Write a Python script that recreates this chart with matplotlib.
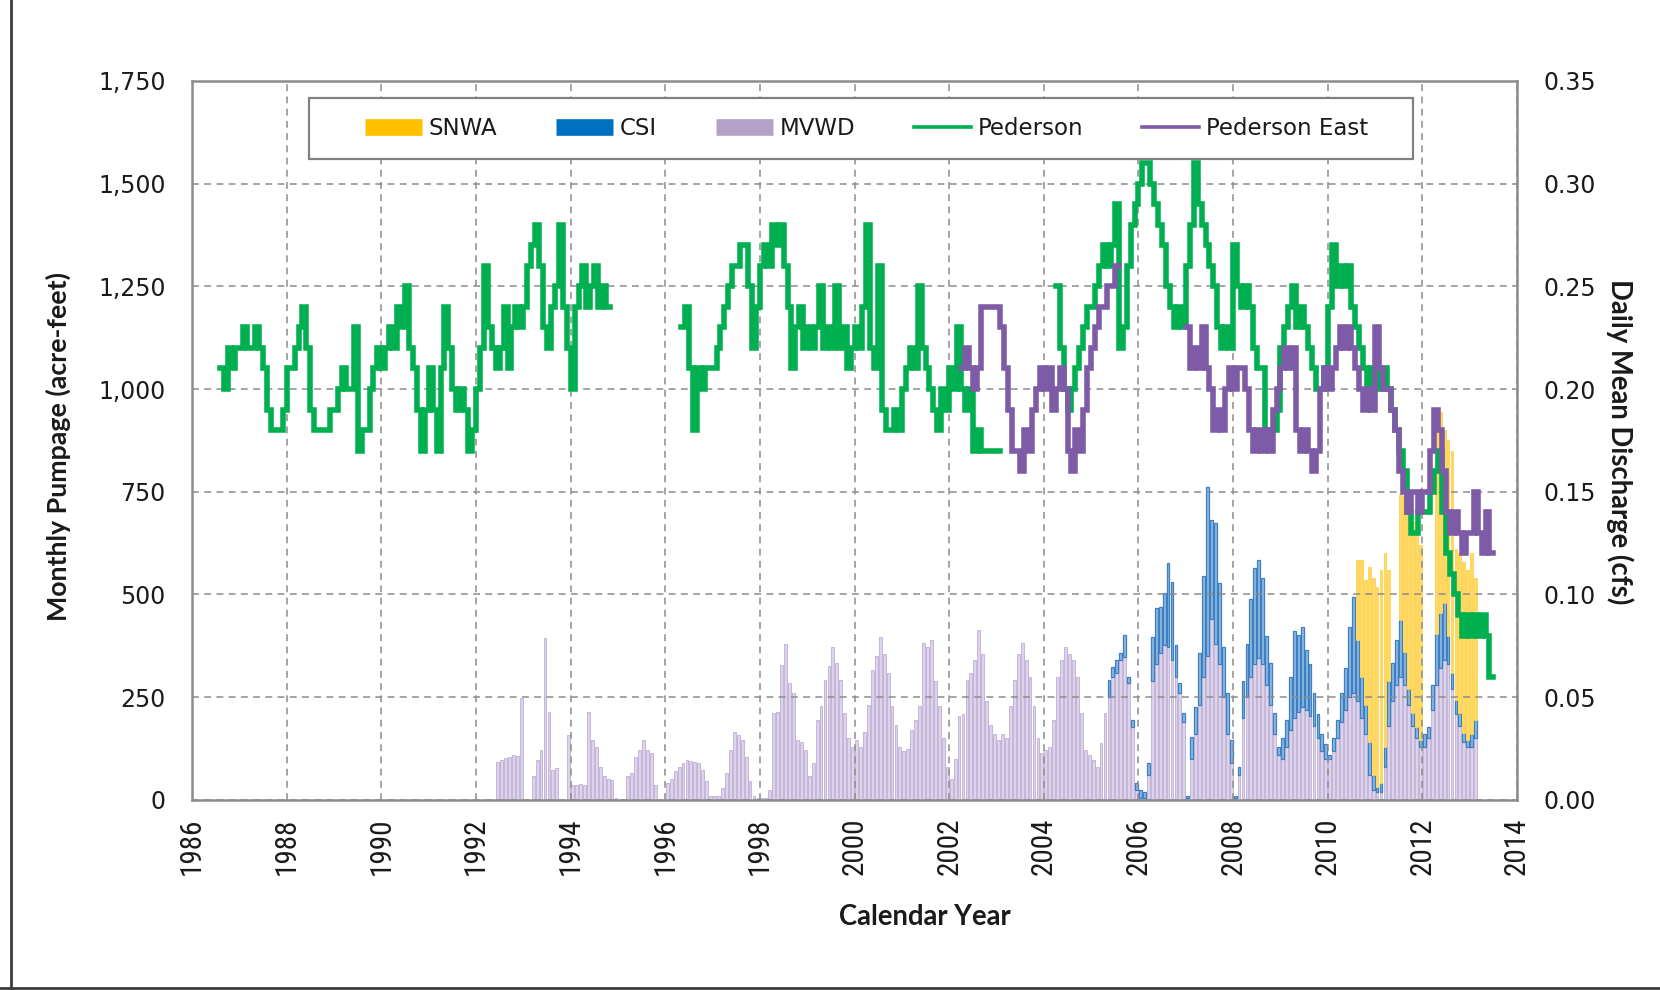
import numpy as np
import matplotlib
matplotlib.use("Agg")
import matplotlib.pyplot as plt
from matplotlib.lines import Line2D
from matplotlib.patches import Rectangle
from matplotlib.ticker import FuncFormatter
from matplotlib import font_manager

nan = np.nan

# ---------------------------------------------------------------------------
# Monthly pumpage (acre-feet); each list starts at the (year, month) given
# ---------------------------------------------------------------------------
mvwd_start = (1992, 6)
mvwd = [
    93, 98, 102, 105, 110, 108, 248,                              # 1992 Jun-Dec
    0, 0, 57, 98, 122, 393, 215, 73, 78, 0, 0, 158,               # 1993
    36, 36, 38, 36, 215, 146, 130, 81, 57, 50, 48, 5,             # 1994
    0, 0, 57, 65, 105, 122, 146, 122, 114, 36, 0, 0,              # 1995
    40, 50, 70, 80, 90, 97, 95, 92, 90, 73, 45, 10,               # 1996
    10, 10, 30, 65, 122, 166, 158, 146, 105, 45, 10, 5,           # 1997
    5, 5, 25, 211, 215, 328, 380, 284, 260, 146, 140, 122,        # 1998
    57, 89, 195, 228, 292, 325, 373, 333, 292, 211, 150, 130,     # 1999
    145, 130, 165, 230, 317, 350, 396, 356, 308, 228, 182, 130,   # 2000
    120, 125, 170, 195, 228, 381, 373, 390, 290, 228, 150, 80,    # 2001
    50, 100, 204, 210, 292, 308, 340, 414, 356, 240, 183, 160,    # 2002
    146, 160, 150, 228, 292, 356, 381, 340, 300, 228, 150, 114,   # 2003
    122, 130, 195, 300, 340, 373, 356, 340, 300, 211, 122, 110,   # 2004
    97, 81, 138, 211, 251, 300, 310, 341, 349, 284, 178, 25,      # 2005
    5, 5, 60, 290, 330, 357, 377, 373, 341, 300, 260, 190,        # 2006
    5, 100, 160, 230, 300, 350, 440, 380, 330, 250, 160, 90,      # 2007
    5, 60, 200, 250, 300, 330, 345, 330, 280, 230, 160, 110,      # 2008
    100, 130, 170, 200, 215, 225, 220, 205, 180, 150, 120, 100,   # 2009
    100, 120, 150, 190, 220, 250, 260, 240, 200, 160, 60, 25,     # 2010
    20, 20, 80, 180, 240, 280, 300, 280, 230, 180, 150, 130,      # 2011
    130, 150, 220, 280, 320, 340, 330, 270, 210, 180, 140, 130,   # 2012
    130, 150,                                                     # 2013 Jan-Feb
]

csi_start = (2005, 5)
csi = [
    41, 24, 31, 16, 53, 16, 17, 16,                               # 2005 May-Dec
    19, 15, 30, 107, 136, 113, 126, 203, 190, 77, 24, 21,         # 2006
    5, 54, 67, 127, 245, 412, 241, 293, 198, 123, 100, 56,        # 2007
    5, 20, 90, 130, 190, 234, 239, 210, 120, 103, 51, 20,         # 2008
    50, 65, 130, 210, 187, 197, 145, 127, 80, 60, 40, 35,         # 2009
    10, 30, 45, 70, 100, 170, 235, 149, 100, 70, 80, 35,          # 2010
    12, 20, 50, 110, 93, 109, 138, 80, 40, 31, 28, 16,            # 2011
    30, 28, 60, 125, 135, 139, 70, 38, 33, 31, 22, 16,            # 2012
    30, 45,                                                       # 2013 Jan-Feb
]

snwa_start = (2010, 8)
snwa = [
    195, 284, 305, 427, 480,                                      # 2010 Aug-Dec
    487, 520, 470, 270, 0, 0, 307, 380, 430, 469, 472, 474,       # 2011
    0, 0, 0, 535, 490, 421, 476, 542, 367, 389, 418, 414,         # 2012
    440, 345,                                                     # 2013 Jan-Feb
]

# ---------------------------------------------------------------------------
# Spring discharge (cfs), monthly steps
# ---------------------------------------------------------------------------
pederson_start = (1986, 8)
pederson = [
    0.21, 0.20, 0.22, 0.21, 0.22,                                             # 1986 Aug-Dec
    0.22, 0.23, 0.22, 0.22, 0.23, 0.22, 0.21, 0.19, 0.18, 0.18, 0.18, 0.19,   # 1987
    0.21, 0.21, 0.22, 0.23, 0.24, 0.22, 0.19, 0.18, 0.18, 0.18, 0.18, 0.19,   # 1988
    0.19, 0.20, 0.21, 0.20, 0.20, 0.23, 0.17, 0.18, 0.18, 0.20, 0.21, 0.22,   # 1989
    0.21, 0.22, 0.23, 0.22, 0.24, 0.23, 0.25, 0.22, 0.21, 0.19, 0.17, 0.19,   # 1990
    0.21, 0.19, 0.17, 0.21, 0.24, 0.22, 0.20, 0.19, 0.20, 0.19, 0.17, 0.18,   # 1991
    0.20, 0.22, 0.26, 0.23, 0.22, 0.21, 0.22, 0.24, 0.21, 0.23, 0.24, 0.23,   # 1992
    0.24, 0.26, 0.27, 0.28, 0.26, 0.23, 0.22, 0.24, 0.25, 0.28, 0.24, 0.22,   # 1993
    0.20, 0.24, 0.25, 0.26, 0.24, 0.25, 0.26, 0.24, 0.25, 0.24, nan, nan,     # 1994
    nan, nan, nan, nan, nan, nan, nan, nan, nan, nan, nan, nan,               # 1995
    nan, nan, nan, nan, 0.23, 0.24, 0.21, 0.18, 0.21, 0.20, 0.21, 0.21,       # 1996
    0.21, 0.22, 0.23, 0.24, 0.25, 0.26, 0.26, 0.27, 0.27, 0.25, 0.22, 0.24,   # 1997
    0.26, 0.27, 0.26, 0.28, 0.27, 0.28, 0.26, 0.24, 0.21, 0.23, 0.24, 0.22,   # 1998
    0.23, 0.22, 0.23, 0.25, 0.22, 0.23, 0.22, 0.25, 0.22, 0.23, 0.21, 0.22,   # 1999
    0.23, 0.22, 0.24, 0.28, 0.22, 0.21, 0.26, 0.19, 0.18, 0.18, 0.19, 0.18,   # 2000
    0.20, 0.21, 0.22, 0.21, 0.25, 0.22, 0.21, 0.20, 0.19, 0.18, 0.20, 0.19,   # 2001
    0.21, 0.20, 0.23, 0.20, 0.19, 0.20, 0.17, 0.18, 0.17, 0.17, 0.17, 0.17,   # 2002
    0.17, nan, nan, nan, nan, nan, nan, nan, nan, nan, nan, nan,              # 2003
    nan, nan, nan, 0.25, 0.22, 0.20, 0.19, 0.20, 0.21, 0.22, 0.23, 0.24,      # 2004
    0.24, 0.25, 0.26, 0.27, 0.26, 0.27, 0.29, 0.22, 0.23, 0.26, 0.28, 0.29,   # 2005
    0.30, 0.31, 0.31, 0.30, 0.29, 0.28, 0.27, 0.25, 0.24, 0.23, 0.24, 0.23,   # 2006
    0.26, 0.28, 0.31, 0.29, 0.28, 0.27, 0.26, 0.25, 0.23, 0.22, 0.23, 0.22,   # 2007
    0.27, 0.25, 0.24, 0.25, 0.24, 0.22, 0.21, 0.21, 0.18, 0.18, 0.18, 0.19,   # 2008
    0.22, 0.23, 0.24, 0.25, 0.23, 0.24, 0.23, 0.22, 0.21, 0.20, 0.20, 0.21,   # 2009
    0.24, 0.27, 0.25, 0.26, 0.25, 0.26, 0.24, 0.23, 0.22, 0.21, 0.20, 0.21,   # 2010
    0.21, 0.20, 0.21, 0.20, 0.19, 0.18, 0.17, 0.16, 0.14, 0.13, 0.13, 0.14,   # 2011
    0.14, 0.14, 0.15, 0.16, 0.17, 0.14, 0.12, 0.11, 0.10, 0.09, 0.08, 0.09,   # 2012
    0.08, 0.09, 0.08, 0.09, 0.08, 0.06,                                       # 2013 Jan-Jun
]

pederson_east_start = (2002, 4)
pederson_east = [
    0.21, 0.22, 0.21, 0.20, 0.21, 0.24, 0.24, 0.24, 0.24,                     # 2002 Apr-Dec
    0.24, 0.23, 0.21, 0.19, 0.17, 0.17, 0.16, 0.18, 0.17, 0.19, 0.20, 0.21,   # 2003
    0.20, 0.21, 0.19, 0.20, 0.21, 0.20, 0.17, 0.16, 0.18, 0.17, 0.19, 0.21,   # 2004
    0.22, 0.23, 0.24, 0.24, 0.25, 0.25, 0.26, nan, nan, nan, nan, nan,        # 2005
    nan, nan, nan, nan, nan, nan, nan, nan, nan, nan, nan, nan,               # 2006
    0.23, 0.21, 0.22, 0.21, 0.23, 0.21, 0.20, 0.18, 0.19, 0.18, 0.20, 0.21,   # 2007
    0.20, 0.21, 0.21, 0.20, 0.18, 0.17, 0.18, 0.17, 0.18, 0.17, 0.19, 0.20,   # 2008
    0.21, 0.22, 0.21, 0.22, 0.18, 0.17, 0.18, 0.17, 0.16, 0.17, 0.20, 0.21,   # 2009
    0.20, 0.21, 0.22, 0.23, 0.22, 0.23, 0.22, 0.21, 0.20, 0.19, 0.20, 0.19,   # 2010
    0.23, 0.21, 0.20, 0.20, 0.19, 0.18, 0.16, 0.15, 0.14, 0.15, 0.15, 0.14,   # 2011
    0.15, 0.15, 0.17, 0.19, 0.18, 0.16, 0.14, 0.13, 0.14, 0.13, 0.12, 0.13,   # 2012
    0.13, 0.15, 0.13, 0.12, 0.14, 0.12,                                       # 2013 Jan-Jun
]

year_ticks = list(range(1986, 2015, 2))
pump_ticks = list(range(0, 1751, 250))
cfs_ticks = [0.00, 0.05, 0.10, 0.15, 0.20, 0.25, 0.30, 0.35]

# ---------------------------------------------------------------------------
# Styling
# ---------------------------------------------------------------------------
C_SNWA, C_SNWA_BAR = "#FFC000", "#FFD966"
C_CSI, C_CSI_BAR, C_CSI_EDGE = "#0070C0", "#8DB9E2", "#3D7FC1"
C_MVWD, C_MVWD_BAR, C_MVWD_EDGE = "#B3A2C7", "#DDD3EA", "#BDAED6"
C_PED = "#00B050"
C_PEDE = "#7D5BA6"
GRID = "#8C8C8C"
SPINE = "#8C8C8C"
TEXT = "#1a1a1a"

available = {f.name for f in font_manager.fontManager.ttflist}
narrow_font = next((n for n in ["Liberation Sans Narrow", "Roboto Condensed",
                                "Open Sans Condensed"] if n in available), "Lato")
label_font = "Lato" if "Lato" in available else "DejaVu Sans"
plt.rcParams["font.family"] = ["DejaVu Sans"]


def month_index(start, n):
    return (start[0] - 1986) * 12 + (start[1] - 1) + np.arange(n)


def on_grid(start, vals, grid_start, n):
    out = np.zeros(n)
    off = (start[0] - grid_start[0]) * 12 + (start[1] - grid_start[1])
    out[off:off + len(vals)] = vals
    return out


fig = plt.figure(figsize=(16.6, 9.9), dpi=100)
ax = fig.add_axes([0.1157, 0.192, 0.7982, 0.7263])

# --- stacked monthly pumpage bars -------------------------------------------
n_bar = len(mvwd)
bar_idx = month_index(mvwd_start, n_bar)
bar_x = 1986 + (bar_idx + 0.5) / 12.0
mv = np.asarray(mvwd, dtype=float)
cs = on_grid(csi_start, csi, mvwd_start, n_bar)
sn = on_grid(snwa_start, snwa, mvwd_start, n_bar)
bw = 0.72 / 12.0

ax.bar(bar_x, mv, width=bw, color=C_MVWD_BAR, edgecolor=C_MVWD_EDGE,
       linewidth=0.6, zorder=1)
m_cs = cs > 0
ax.bar(bar_x[m_cs], cs[m_cs], bottom=mv[m_cs], width=bw, color=C_CSI_BAR,
       edgecolor=C_CSI_EDGE, linewidth=0.9, zorder=1)
m_sn = sn > 0
ax.bar(bar_x[m_sn], sn[m_sn], bottom=(mv + cs)[m_sn], width=bw,
       color=C_SNWA_BAR, edgecolor="#FFD24D", linewidth=0.6, zorder=1)

ax.set_xlim(1986, 2014)
ax.set_ylim(0, 1750)
ax.set_xticks(year_ticks)
ax.set_yticks(pump_ticks)
ax.yaxis.set_major_formatter(FuncFormatter(lambda v, p: f"{v:,.0f}"))
ax.grid(True, which="major", color=GRID, linestyle=(0, (4.5, 3.5)), linewidth=1.1)
ax.set_axisbelow("line")
ax.tick_params(axis="both", length=0)
ax.tick_params(axis="y", pad=19, labelsize=17, colors=TEXT)
ax.tick_params(axis="x", pad=13, labelsize=21, colors=TEXT, rotation=90)
for lab in ax.get_xticklabels():
    lab.set_fontfamily(narrow_font)
for sp in ax.spines.values():
    sp.set_color(SPINE)
    sp.set_linewidth(1.8)

ax.set_ylabel("Monthly Pumpage (acre-feet)", fontsize=19.3, fontweight="bold",
              fontfamily=label_font, color=TEXT)
ax.yaxis.set_label_coords(-0.0913, 0.492)

# --- spring discharge lines ---------------------------------------------------
ax2 = ax.twinx()
ax2.set_ylim(0, 0.35)
ax2.set_yticks(cfs_ticks)
ax2.yaxis.set_major_formatter(FuncFormatter(lambda v, p: f"{v:.2f}"))
ax2.tick_params(axis="y", length=0, pad=19, labelsize=17, colors=TEXT)
for sp in ax2.spines.values():
    sp.set_visible(False)


def step_series(start, vals):
    v = np.asarray(vals, dtype=float)
    idx = month_index(start, len(v))
    x = 1986 + idx / 12.0
    x = np.append(x, x[-1] + 1 / 12.0)
    v = np.append(v, v[-1])
    return x, v


px, pv = step_series(pederson_start, pederson)
ax2.plot(px, pv, drawstyle="steps-post", color=C_PED, linewidth=4.0,
         solid_joinstyle="miter", zorder=3)
ex, ev = step_series(pederson_east_start, pederson_east)
ax2.plot(ex, ev, drawstyle="steps-post", color=C_PEDE, linewidth=4.0,
         solid_joinstyle="miter", zorder=4)

ax2.set_ylabel("Daily Mean Discharge (cfs)", fontsize=19.8, fontweight="bold",
               fontfamily=label_font, color=TEXT, rotation=270, va="center")
ax2.yaxis.set_label_coords(1.0777, 0.4986)

# --- legend ----------------------------------------------------------------
box = Rectangle((0.0883, 0.8915), 0.8332, 0.0848, transform=ax2.transAxes,
                facecolor="white", edgecolor="#808080", linewidth=1.6,
                zorder=10, clip_on=False)
ax2.add_patch(box)
handles = [
    Line2D([], [], color=C_SNWA, lw=12, solid_capstyle="butt"),
    Line2D([], [], color=C_CSI, lw=12, solid_capstyle="butt"),
    Line2D([], [], color=C_MVWD, lw=12, solid_capstyle="butt"),
    Line2D([], [], color=C_PED, lw=2.6),
    Line2D([], [], color=C_PEDE, lw=2.6),
]
labels = ["SNWA", "CSI", "MVWD", "Pederson", "Pederson East"]
leg = ax2.legend(handles, labels, loc="center", bbox_to_anchor=(0.509, 0.934),
                 ncol=5, frameon=False, fontsize=16.5, handlelength=2.5,
                 handletextpad=0.3, columnspacing=2.55, borderpad=0.2)
leg.set_zorder(11)
for t in leg.get_texts():
    t.set_color(TEXT)

# --- x-axis title and outer frame -------------------------------------------
fig.text(0.557, 0.074, "Calendar Year", ha="center", va="center",
         fontsize=19.8, fontweight="bold", fontfamily=label_font, color=TEXT)
fig.add_artist(Line2D([0.0066, 0.0066], [0.0, 1.0], transform=fig.transFigure,
                      color="#3c3c3c", linewidth=2.0))
fig.add_artist(Line2D([0.0, 1.0], [0.0025, 0.0025], transform=fig.transFigure,
                      color="#3c3c3c", linewidth=2.0))

fig.savefig("out.png", dpi=100)
